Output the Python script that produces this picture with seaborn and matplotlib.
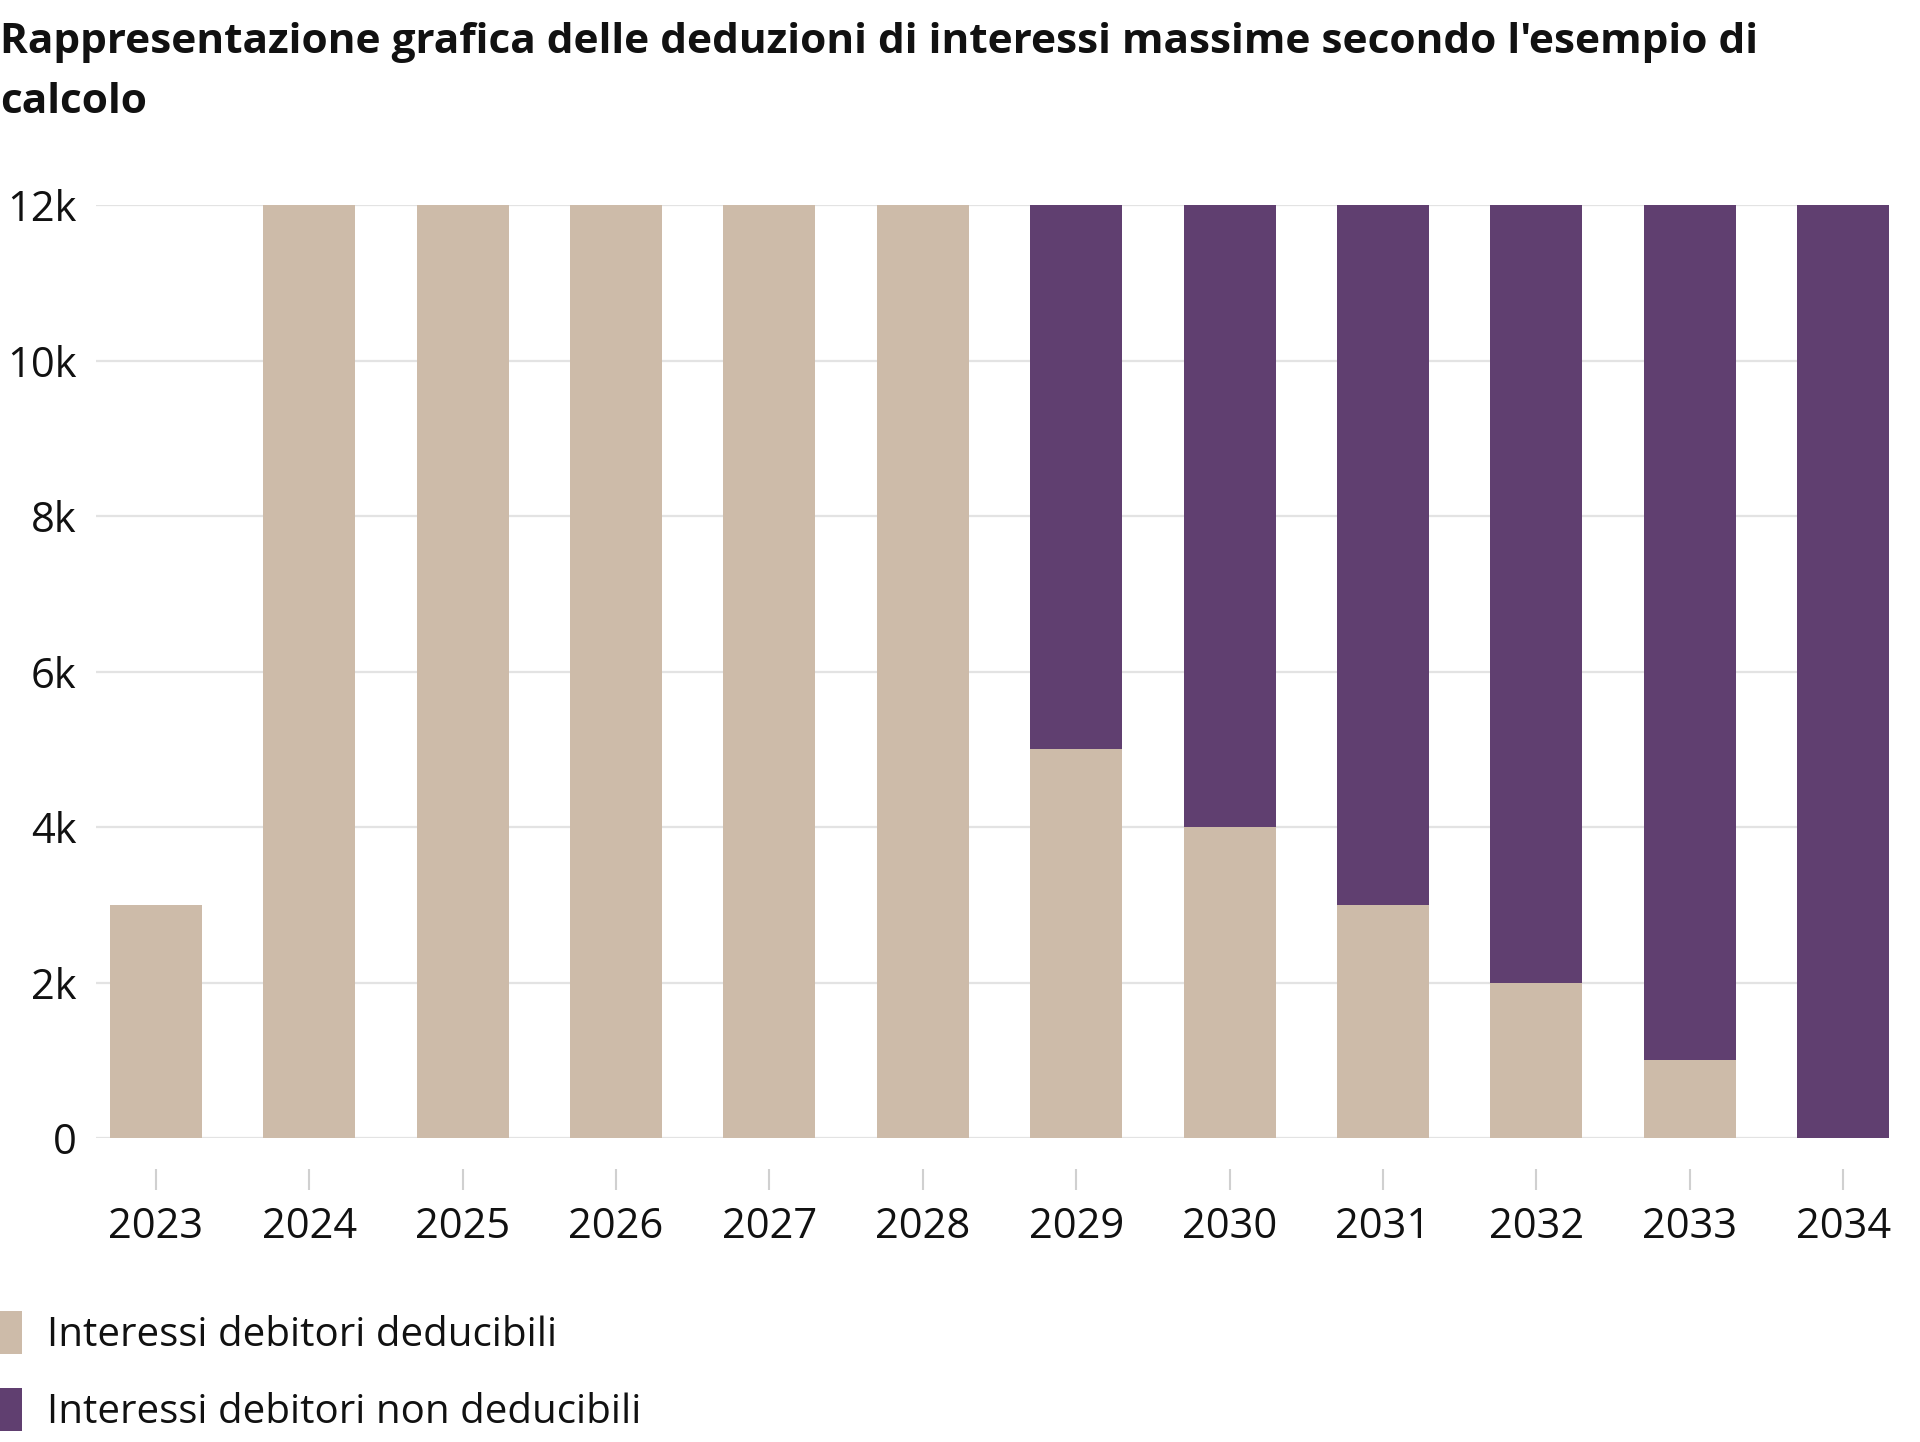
import pandas as pd
import numpy as np
import seaborn as sns
import matplotlib.pyplot as plt
from matplotlib.patches import Patch

# data
years = ["2023", "2024", "2025", "2026", "2027", "2028",
         "2029", "2030", "2031", "2032", "2033", "2034"]
deducibili = [3000, 12000, 12000, 12000, 12000, 12000, 5000, 4000, 3000, 2000, 1000, 0]
non_deducibili = [0, 0, 0, 0, 0, 0, 7000, 8000, 9000, 10000, 11000, 12000]
y_ticks = [0, 2000, 4000, 6000, 8000, 10000, 12000]
y_tick_labels = ["0", "2k", "4k", "6k", "8k", "10k", "12k"]

title = ("Rappresentazione grafica delle deduzioni di interessi massime secondo l'esempio di\n"
         "calcolo")
label_ded = "Interessi debitori deducibili"
label_non = "Interessi debitori non deducibili"

BEIGE = "#CDBBA9"
PURPLE = "#603F70"

df = pd.DataFrame({"Year": years, "Deducibili": deducibili, "Non": non_deducibili})
df["Totale"] = df["Deducibili"] + df["Non"]

sns.set_style("white")
plt.rcParams["font.family"] = ["Open Sans", "DejaVu Sans"]

fig = plt.figure(figsize=(19.2, 14.42), dpi=100)
ax = fig.add_axes([0.05, 0.2108, 0.934, 0.647])

# stacked: total in purple, deductible part drawn over it
sns.barplot(data=df, x="Year", y="Totale", order=years, color=PURPLE, width=0.6,
            saturation=1, ax=ax, linewidth=0, zorder=3)
sns.barplot(data=df, x="Year", y="Deducibili", order=years, color=BEIGE, width=0.6,
            saturation=1, ax=ax, linewidth=0, zorder=4)

ax.set_xlim(-0.39, 11.3)
ax.set_ylim(0, 12000)
ax.set_yticks(y_ticks)
ax.set_yticklabels(y_tick_labels)
ax.set_xlabel("")
ax.set_ylabel("")

ax.set_axisbelow(True)
ax.grid(axis="y", color="#E3E3E3", linewidth=1.6)
ax.grid(axis="x", visible=False)
for s in ["top", "right", "left"]:
    ax.spines[s].set_visible(False)
ax.spines["bottom"].set_position(("outward", 22))
ax.spines["bottom"].set_color("none")

ax.tick_params(axis="y", left=False, length=0, pad=14, labelsize=30, labelcolor="#111111")
ax.tick_params(axis="x", bottom=True, length=15, width=1.5, color="#D0D0D0", pad=12,
               labelsize=30, labelcolor="#111111")

fig.text(0.0, 1 - 113 / 1442, title, fontsize=30.5, fontweight="bold", color="#111111",
         ha="left", va="baseline", linespacing=1.62)

handles = [Patch(facecolor=BEIGE, edgecolor="none", label=label_ded),
           Patch(facecolor=PURPLE, edgecolor="none", label=label_non)]
fig.legend(handles=handles, loc="upper left", bbox_to_anchor=(0.0, 1 - 1311 / 1442),
           frameon=False, fontsize=29, handlelength=0.55, handleheight=1.25,
           handletextpad=0.62, labelspacing=0.8, borderpad=0, borderaxespad=0,
           labelcolor="#111111")

fig.savefig("out.png", dpi=100)
